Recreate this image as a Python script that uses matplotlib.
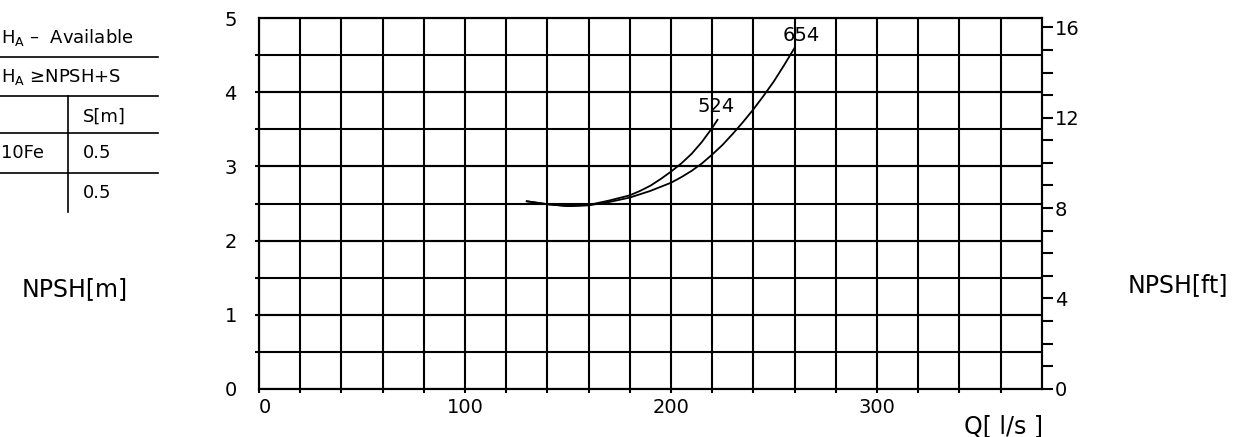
import numpy as np
import matplotlib
matplotlib.use("Agg")
import matplotlib.pyplot as plt
from matplotlib.lines import Line2D
from matplotlib.ticker import FixedLocator

# NPSH curves (Q in l/s, NPSH in m)
q_524 = [130, 140, 150, 160, 170, 180, 185, 190, 195, 200, 205, 210, 215,
         220, 222.6]
npsh_524 = [2.53, 2.49, 2.465, 2.48, 2.54, 2.61, 2.67, 2.74, 2.83, 2.93,
            3.04, 3.17, 3.33, 3.52, 3.63]

q_654 = [130, 140, 150, 160, 170, 180, 190, 200, 205, 210, 215, 220, 225,
         230, 235, 240, 245, 250, 255, 260]
npsh_654 = [2.53, 2.49, 2.465, 2.475, 2.52, 2.58, 2.67, 2.78, 2.855, 2.94,
            3.04, 3.16, 3.29, 3.44, 3.60, 3.77, 3.955, 4.15, 4.37, 4.60]

curve_names = ["524", "654"]
x_labels = [0, 100, 200, 300]
y_labels_m = [0, 1, 2, 3, 4, 5]
y_labels_ft = [0, 4, 8, 12, 16]
M_TO_FT = 3.2808

W, H = 1234, 437
plt.rcParams['font.family'] = ['DejaVu Sans']
plt.rcParams['mathtext.default'] = 'regular'


def fx(x):
    return x / W


def fy(y):
    return 1 - y / H


fig = plt.figure(figsize=(W / 100, H / 100), dpi=100)
x0, x1, y0, y1 = 259, 1041.7, 388.7, 18.3
ax = fig.add_axes([fx(x0), fy(y0), fx(x1 - x0), (y0 - y1) / H])
ax.set_xlim(0, 380)
ax.set_ylim(0, 5)

tick_font = dict(family='DejaVu Sans', size=14)

ax.set_xticks(x_labels)
ax.set_xticklabels([str(v) for v in x_labels], **tick_font)
ax.xaxis.set_minor_locator(FixedLocator(np.arange(20, 380, 20)))
ax.set_yticks(y_labels_m)
ax.set_yticklabels([str(v) for v in y_labels_m], **tick_font)
ax.yaxis.set_minor_locator(FixedLocator(np.arange(0.5, 5, 0.5)))
ax.yaxis.remove_overlapping_locs = False
ax.xaxis.get_ticklabels()[0].set_horizontalalignment('left')

ax.tick_params(axis='x', which='both', direction='out', length=3,
               width=1.5, pad=3.5, color='black')
ax.tick_params(axis='y', which='major', length=0, pad=16)
ax.tick_params(axis='y', which='minor', direction='out', length=3, width=1.5)
ax.grid(which='both', color='black', linewidth=1.5)
for s in ax.spines.values():
    s.set_linewidth(1.5)

ax.plot(q_524, npsh_524, color='black', lw=1.3, solid_joinstyle='round')
ax.plot(q_654, npsh_654, color='black', lw=1.3, solid_joinstyle='round')
ax.text(221.7, 3.81, curve_names[0], ha='center', va='center', **tick_font)
ax.text(263.4, 4.77, curve_names[1], ha='center', va='center', **tick_font)

ax2 = ax.twinx()
ax2.set_ylim(0, 5 * M_TO_FT)
ax2.set_yticks(y_labels_ft)
ax2.set_yticklabels([str(v) for v in y_labels_ft], **tick_font)
ax2.yaxis.set_minor_locator(FixedLocator(np.arange(1, 17, 1)))
ax2.tick_params(axis='y', which='both', direction='out', length=8,
                width=1.5, pad=1.5)
for s in ax2.spines.values():
    s.set_linewidth(1.5)

# axis titles
fig.text(fx(75), fy(289), "NPSH[m]", ha='center', va='center', fontsize=17)
fig.text(fx(1178), fy(285), "NPSH[ft]", ha='center', va='center', fontsize=17)
fig.text(fx(1003), fy(426), "Q[ l/s ]", ha='center', va='center', fontsize=17)

# NPSH margin table (left part lies outside the picture)
tbl_lw = 1.2
for yy in [56.7, 96, 133.3, 173.3]:
    fig.add_artist(Line2D([fx(0), fx(158)], [fy(yy), fy(yy)], color='black',
                          lw=tbl_lw))
fig.add_artist(Line2D([fx(68), fx(68)], [fy(96), fy(211.7)], color='black',
                      lw=tbl_lw))
tbl_font = dict(fontsize=13, va='center')
fig.text(fx(1), fy(38), r"H$_\mathregular{A}$ –  Available", ha='left',
         **tbl_font)
fig.text(fx(1), fy(77), r"H$_\mathregular{A}$ ≥NPSH+S", ha='left',
         **tbl_font)
fig.text(fx(83), fy(116.7), "S[m]", ha='left', **tbl_font)
fig.text(fx(1), fy(153), "10Fe", ha='left', **tbl_font)
fig.text(fx(83), fy(153), "0.5", ha='left', **tbl_font)
fig.text(fx(83), fy(193), "0.5", ha='left', **tbl_font)

fig.savefig("out.png", dpi=100)
